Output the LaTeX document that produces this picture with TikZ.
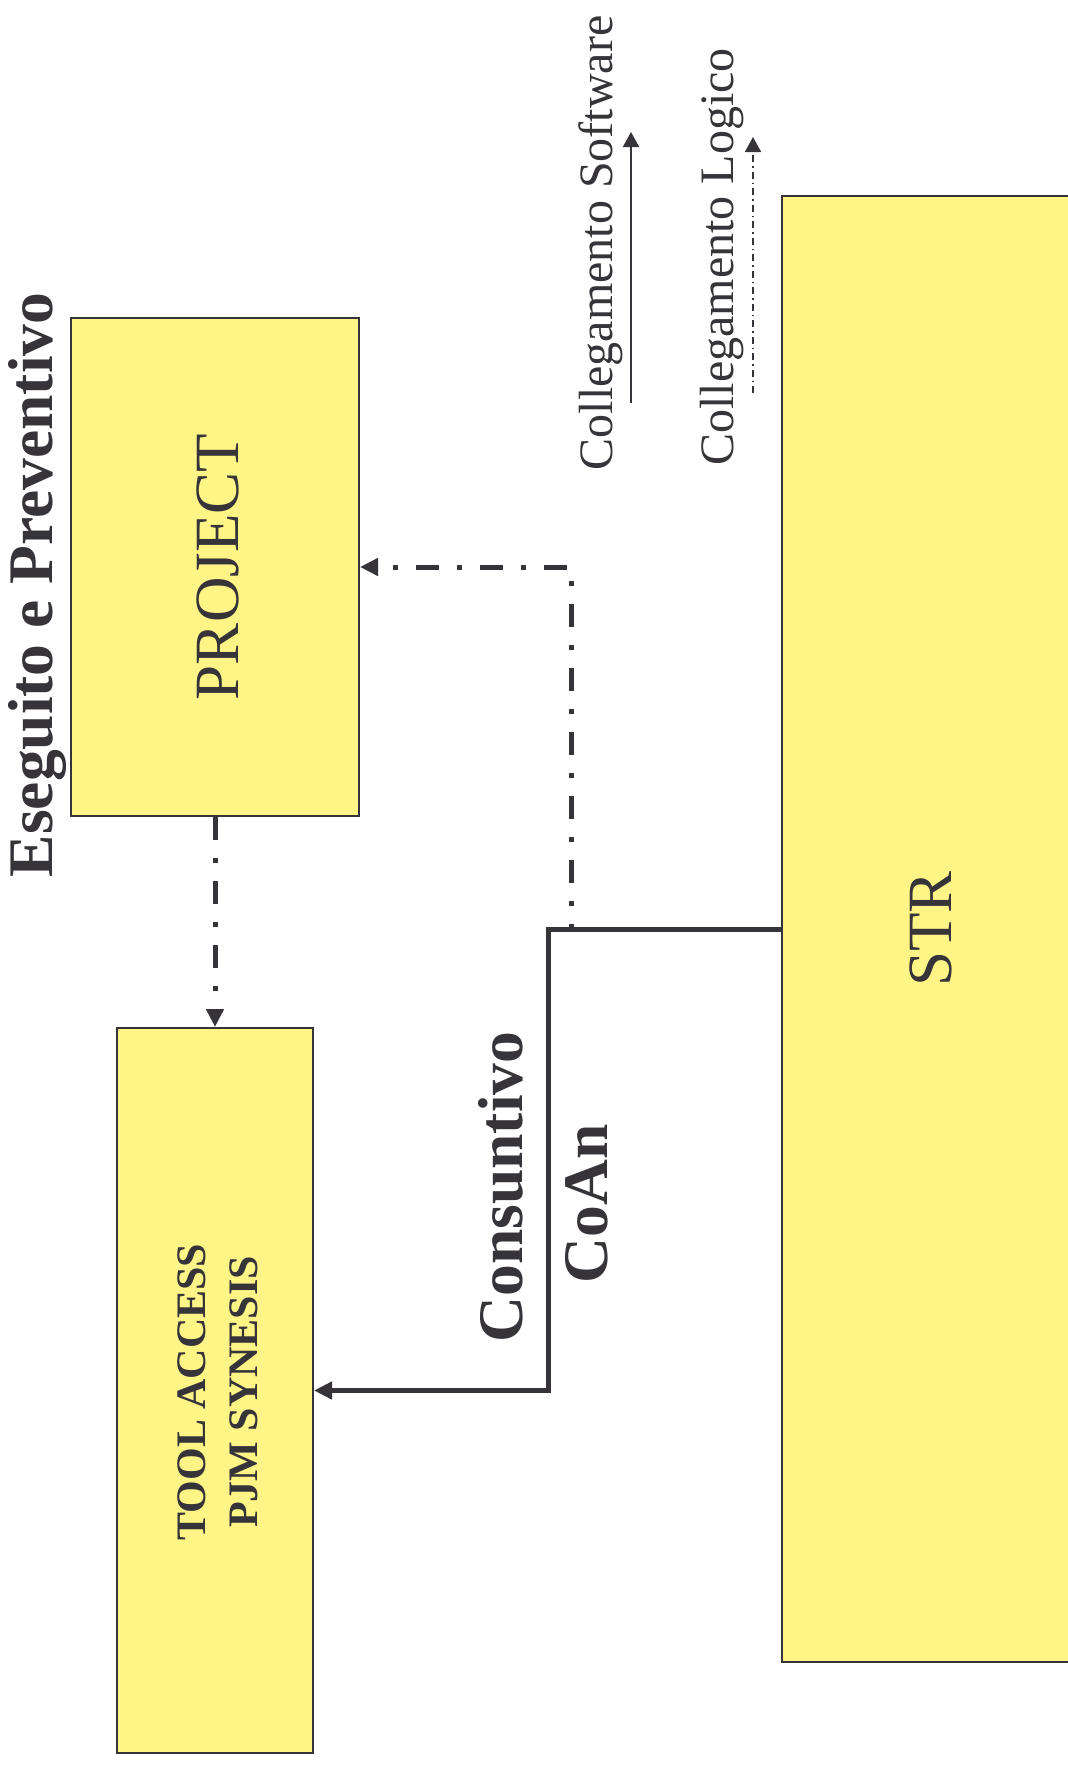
\documentclass[tikz,border=0pt]{standalone}
\usepackage{fontspec}
\setmainfont{Liberation Serif}
\usetikzlibrary{arrows.meta}

\definecolor{boxyellow}{RGB}{255,245,135}
\definecolor{inkgray}{RGB}{54,52,56}

\begin{document}
\begin{tikzpicture}[x=1pt, y=-1pt,
        box/.style={draw=inkgray, line width=2pt, fill=boxyellow, inner sep=0pt},
        softlink/.style={draw=inkgray, line width=5pt, -{Triangle[length=18pt, width=17pt]}},
        logiclink/.style={draw=inkgray, line width=5pt, dash pattern=on 23pt off 18pt on 5pt off 18pt,
            -{Triangle[length=18pt, width=17pt]}},
        softkey/.style={draw=inkgray, line width=2pt, -{Triangle[length=15pt, width=16pt]}},
        logickey/.style={draw=inkgray, line width=1.6pt, dash pattern=on 7pt off 4pt on 1.5pt off 4pt,
            -{Triangle[length=15pt, width=16pt]}},
        vtext/.style={text=inkgray, rotate=90, anchor=base, inner sep=0pt},
        bigplain/.style={vtext, font=\fontsize{63}{75}\selectfont},
        bigbold/.style={vtext, font=\bfseries\fontsize{63.5}{76}\selectfont},
        midbold/.style={vtext, font=\bfseries\fontsize{42}{50}\selectfont},
        legendtxt/.style={vtext, font=\fontsize{48}{57}\selectfont}]
                \useasboundingbox (0,0) rectangle (1068,1767);

                %%boxes
                \node[box, minimum width=288pt, minimum height=498pt] (project) at (215,567) {};
                \node[box, minimum width=196pt, minimum height=725pt] (tool) at (215,1390.5) {};
                \node[box, minimum width=296pt, minimum height=1466pt] (str) at (930,929) {};

                %%texts
                \node[bigbold] (eseguito) at (52,585) {Eseguito e Preventivo};
                \node[bigplain] (projecttxt) at (238,567) {PROJECT};
                \node[midbold] (tooltxta) at (205,1392) {TOOL ACCESS};
                \node[midbold] (tooltxtb) at (257,1392) {PJM SYNESIS};
                \node[bigplain] (strtxt) at (951,929) {STR};
                \node[bigbold] (consuntivo) at (522,1187) {Consuntivo};
                \node[bigbold] (coan) at (607,1204) {CoAn};

                %%links
                \coordinate (split) at (548,929);
                \coordinate (tap) at (571,929);
                \draw[softlink]
                    (str.west) -- (split) |- (tool.east);
                \draw[logiclink]
                    (str.west) -- (tap) |- (project.east);
                \draw[logiclink]
                    (project.south) -- (tool.north);

                %%legend
                \coordinate (softfrom) at (631,403);
                \coordinate (softto) at (631,132);
                \coordinate (logicfrom) at (753,393);
                \coordinate (logicto) at (753,137);
                \draw[softkey]
                    (softfrom) -- (softto);
                \draw[logickey]
                    (logicfrom) -- (logicto);
                \node[legendtxt] (softtxt) at (612,243) {Collegamento Software};
                \node[legendtxt] (logictxt) at (733,257) {Collegamento Logico};
\end{tikzpicture}
\end{document}
